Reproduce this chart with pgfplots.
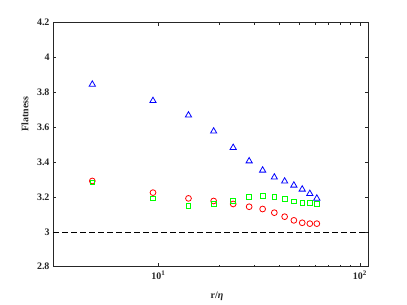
\documentclass[border=0pt]{standalone}
\usepackage{fontspec}
\setmainfont{Liberation Serif}
\usepackage{pgfplots}
\pgfplotsset{compat=1.18}
\definecolor{axgray}{rgb}{0.15,0.15,0.15}
\begin{document}
\begin{tikzpicture}
\useasboundingbox (-53bp,-38.3bp) rectangle (354bp,266.7bp);
\begin{axis}[
  scale only axis,
  width=315.3bp, height=244bp,
  xmode=log,
  xmin=3, xmax=110,
  ymin=2.8, ymax=4.2,
  ytick={2.8,3,3.2,3.4,3.6,3.8,4,4.2},
  yticklabels={2.8,3,3.2,3.4,3.6,3.8,4,4.2},
  xtick={10,100},
  xticklabels={10\textsuperscript{1},10\textsuperscript{2}},
  /pgf/number format/assume math mode=true,
  tick label style={font=\fontsize{10}{12}\selectfont\bfseries, color=axgray},
  tick align=inside,
  major tick length=3.5bp,
  minor tick length=2bp,
  axis line style={color=axgray, line width=0.6bp},
  every tick/.style={color=axgray, line width=0.6bp},
  xlabel={r/\textit{η}},
  ylabel={Flatness},
  label style={font=\fontsize{10}{12}\selectfont\bfseries, color=axgray},
  xlabel style={at={(axis description cs:0.52,-0.123)}, anchor=center},
  ylabel style={at={(axis description cs:-0.089,0.626)}, anchor=center},
  x tick label style={yshift=-1bp},
  clip=false,
]
\addplot[black, dash pattern=on 5.5bp off 3.5bp, line width=0.6bp, forget plot] coordinates {(3,3) (110,3)};
\addplot[only marks, mark=triangle, mark size=3.6bp, color=blue, mark options={line width=0.8bp}] coordinates {
(4.7,3.846) (9.4,3.752) (14.1,3.669) (18.8,3.577) (23.5,3.483) (28.2,3.406) (32.9,3.353) (37.6,3.313) (42.3,3.290) (47.0,3.267) (51.7,3.244) (56.4,3.219) (61.1,3.192)
};
\addplot[only marks, mark=o, mark size=2.9bp, color=red, mark options={line width=0.8bp}] coordinates {
(4.7,3.292) (9.4,3.225) (14.1,3.192) (18.8,3.177) (23.5,3.160) (28.2,3.144) (32.9,3.131) (37.6,3.110) (42.3,3.087) (47.0,3.066) (51.7,3.052) (56.4,3.047) (61.1,3.047)
};
\addplot[only marks, mark=square, mark size=2.3bp, color=green, mark options={line width=0.8bp}] coordinates {
(4.7,3.284) (9.4,3.192) (14.1,3.148) (18.8,3.160) (23.5,3.179) (28.2,3.200) (32.9,3.206) (37.6,3.200) (42.3,3.188) (47.0,3.175) (51.7,3.167) (56.4,3.165) (61.1,3.160)
};
\end{axis}
\end{tikzpicture}
\end{document}
